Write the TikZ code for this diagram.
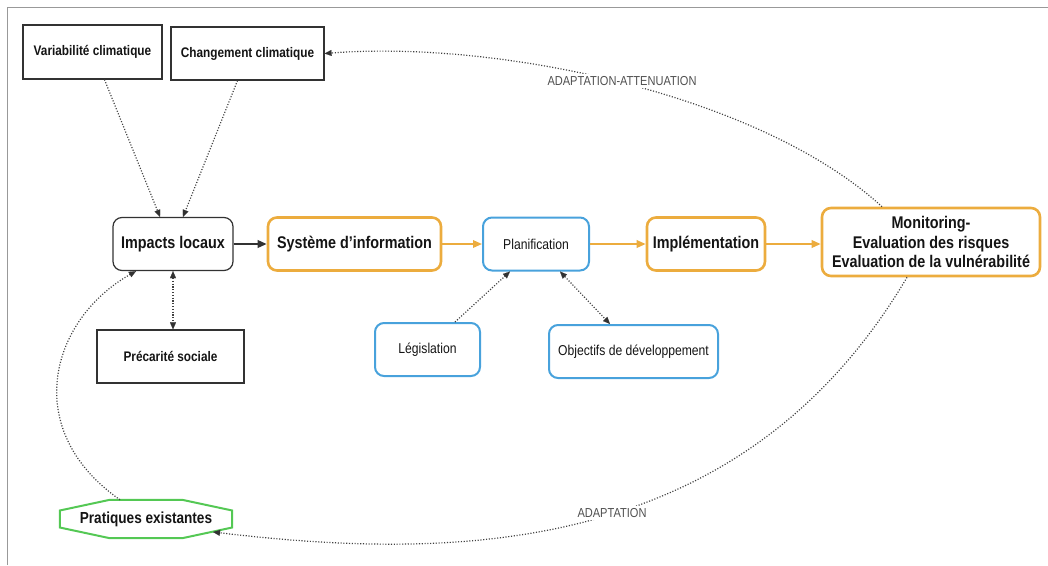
\documentclass[tikz,border=0pt]{standalone}
\usepackage{fontspec}
\setmainfont[FakeStretch=0.85]{Liberation Sans}
\usetikzlibrary{arrows.meta,calc}
\definecolor{orng}{RGB}{236,172,62}
\definecolor{blu}{RGB}{72,162,220}
\definecolor{grn}{RGB}{84,200,84}
\definecolor{dk}{RGB}{50,50,50}
\definecolor{txt}{RGB}{20,20,20}
\definecolor{lbl}{RGB}{80,80,80}
\definecolor{dot}{RGB}{65,65,65}
\tikzset{
  boxsq/.style={draw=dk, line width=1.2pt, inner sep=2pt, text=txt, font=\bfseries\fontsize{13.9}{16}\selectfont},
  boxrd/.style={draw=dk, line width=1.2pt, rounded corners=9pt, inner sep=2pt, text=txt, font=\bfseries\fontsize{16.9}{19.5}\selectfont},
  boxor/.style={draw=orng, line width=2.6pt, rounded corners=9pt, inner sep=2pt, text=txt, align=center, font=\bfseries\fontsize{16.9}{19.5}\selectfont},
  boxbl/.style={draw=blu, line width=2pt, rounded corners=9pt, inner sep=2pt, text=txt, font=\fontsize{14.3}{16}\selectfont},
  dottip/.tip={Triangle[length=7pt,width=6pt,color=dk,fill=dk,line width=0.1pt]},
  dotarr/.style={draw=dot, line width=1.2pt, dash pattern=on 1.1pt off 1.7pt, -dottip},
  dotdbl/.style={draw=dot, line width=1.2pt, dash pattern=on 1.1pt off 1.7pt, dottip-dottip},
  orarr/.style={draw=orng, line width=1.8pt, -{Triangle[length=9pt,width=7.5pt]}},
  solarr/.style={draw=dk, line width=2pt, -{Triangle[length=9pt,width=7.5pt]}},
  curvelbl/.style={fill=white, inner sep=2pt, text=lbl, font=\fontsize{13}{15}\selectfont}
}
\begin{document}
\begin{tikzpicture}[x=1pt,y=-1pt]
\useasboundingbox (0,0) rectangle (1048,565);
\draw[draw=gray!80, line width=1pt] (7,565) -- (7,7) -- (1048,7);

\node[boxsq, minimum width=139, minimum height=54] (var) at (92.5,52) {Variabilité climatique};
\node[boxsq, minimum width=153, minimum height=53] (chg) at (247.5,53.5) {Changement climatique};
\node[boxrd, minimum width=120, minimum height=53] (imp) at (173,244) {Impacts locaux};
\node[boxor, minimum width=173, minimum height=53] (sys) at (354.5,244) {Système d'information};
\node[boxbl, minimum width=106, minimum height=53] (plan) at (536,244) {Planification};
\node[boxor, minimum width=118, minimum height=53] (impl) at (706,244) {Implémentation};
\node[boxor, minimum width=218, minimum height=68] (mon) at (931,242) {Monitoring-\\Evaluation des risques\\Evaluation de la vulnérabilité};
\node[boxsq, minimum width=147, minimum height=53] (prec) at (170.5,356.5) {Précarité sociale};
\node[boxbl, minimum width=105, minimum height=53] (leg) at (427.5,349.5) {Législation};
\node[boxbl, minimum width=169, minimum height=53] (obj) at (633.5,351.5) {Objectifs de développement};
\node[minimum width=172, minimum height=38, inner sep=0pt, text=txt, font=\bfseries\fontsize{16}{18}\selectfont] (prat) at (146,519) {Pratiques existantes};
\draw[draw=grn, line width=2pt, line join=miter]
  ($(prat.west)+(0,-8.5)$) -- ($(prat.north west)+(50,0)$) -- ($(prat.north east)+(-50,0)$)
  -- ($(prat.east)+(0,-8.5)$) -- ($(prat.east)+(0,8.5)$) -- ($(prat.south east)+(-50,0)$)
  -- ($(prat.south west)+(50,0)$) -- ($(prat.west)+(0,8.5)$) -- cycle;
\coordinate (pratin) at ($(prat.center)+(67,13)$);

% flow arrows
\draw[solarr] (imp.east) -- (sys.west);
\draw[orarr] (sys.east) -- (plan.west);
\draw[orarr] (plan.east) -- (impl.west);
\draw[orarr] (impl.east) -- (impl.east -| mon.west);

% dotted connectors
\draw[dotarr] ([xshift=12]var.south) -- ([xshift=-13]imp.north);
\draw[dotarr] ([xshift=-10]chg.south) -- ([xshift=10]imp.north);
\draw[dotdbl] (imp.south) -- (imp.south |- prec.north);
\draw[dotarr] ([xshift=27.5]leg.north) -- ([xshift=-26]plan.south);
\draw[dotdbl] ([xshift=24]plan.south) -- ([xshift=-23.5]obj.north);

% curves
\draw[dotarr] ([xshift=-49]mon.north) .. controls (760,95) and (500,40) .. (chg.east);
\node[curvelbl] (lbl1) at (622,81) {ADAPTATION-ATTENUATION};
\draw[dotarr] ([xshift=-24]mon.south) .. controls (740,560) and (450,560) .. (pratin);
\node[curvelbl] (lbl2) at (612,513) {ADAPTATION};
\draw[dotarr] ([xshift=-26]prat.north) .. controls (20,430) and (50,320) .. ([xshift=-37]imp.south);
\end{tikzpicture}
\end{document}
